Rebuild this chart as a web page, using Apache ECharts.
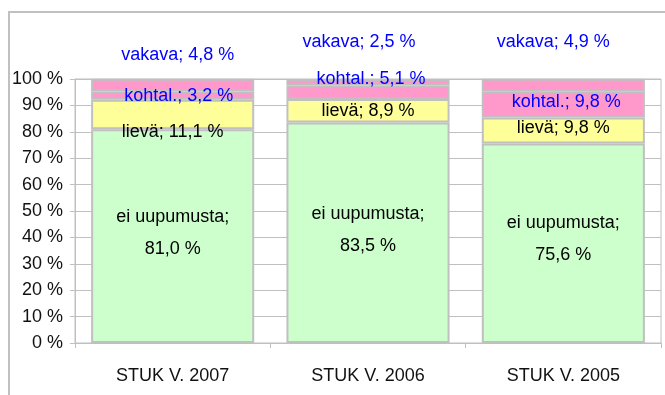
<!DOCTYPE html>
<html>
<head>
<meta charset="utf-8">
<script src="https://cdn.jsdelivr.net/npm/echarts@6/dist/echarts.min.js"></script>
<style>
  html, body { margin: 0; padding: 0; background: #ffffff; }
  #chart { width: 665px; height: 395px; }
</style>
</head>
<body>
<div id="chart"></div>
<script>
// Survey categories (x axis)
var categories = ['STUK V. 2007', 'STUK V. 2006', 'STUK V. 2005'];

// Share of respondents per burnout level, percent
var eiUupumusta = [81.0, 83.5, 75.6];
var lieva = [11.1, 8.9, 9.8];
var kohtal = [3.2, 5.1, 9.8];
var vakava = [4.8, 2.5, 4.9];

// Y axis ticks
var yTicks = { min: 0, max: 100, step: 10 };

var FONT = "'Liberation Sans', Arial, sans-serif";
var FONT_SIZE = 18;

function pct(v) {
  return v.toFixed(1).replace('.', ',') + ' %';
}

// Hand-placed label nudges, [dx, dy] per bar
var offsets = {
  ei: [[0, -3], [0, -3], [0, -4]],
  lieva: [[0, 18], [0, 0], [0, -2]],
  kohtal: [[6, 0], [3, -13], [3, -3]],
  vakava: [[5, -30], [-9, -40], [-10, -43]]
};

var barStyle = { borderColor: '#c0c0c0', borderWidth: 2 };

function makeSeries(name, values, key, color, labelColor, formatter, extraLabel) {
  var label = Object.assign({
    show: true,
    position: 'inside',
    color: labelColor,
    fontFamily: FONT,
    fontSize: FONT_SIZE,
    formatter: formatter
  }, extraLabel || {});
  return {
    name: name,
    type: 'bar',
    stack: 'total',
    barCategoryGap: '16.5%',
    data: values,
    itemStyle: Object.assign({ color: color }, barStyle),
    label: label,
    labelLayout: function (params) {
      var o = offsets[key][params.dataIndex];
      return { dx: o[0], dy: o[1], hideOverlap: false };
    },
    emphasis: { disabled: true }
  };
}

var chart = echarts.init(document.getElementById('chart'), null, { renderer: 'canvas' });

chart.setOption({
  animation: false,
  backgroundColor: '#ffffff',
  graphic: [{
    type: 'rect',
    shape: { x: 9, y: 12, width: 700, height: 420 },
    style: { fill: 'none', stroke: '#c0c0c0', lineWidth: 2 },
    z: -1
  }],
  grid: {
    left: 75, right: 4, top: 79, bottom: 52,
    show: true, borderColor: '#c0c0c0', borderWidth: 1
  },
  xAxis: {
    type: 'category',
    data: categories,
    axisLine: { lineStyle: { color: '#c0c0c0', width: 1 } },
    axisTick: { show: true, length: 5, lineStyle: { color: '#c0c0c0' } },
    axisLabel: { color: '#111', fontFamily: FONT, fontSize: FONT_SIZE, margin: 24 },
    splitLine: { show: false }
  },
  yAxis: {
    type: 'value',
    min: yTicks.min,
    max: yTicks.max,
    interval: yTicks.step,
    axisLine: { show: true, lineStyle: { color: '#c0c0c0', width: 1 } },
    axisTick: { show: true, length: 5, lineStyle: { color: '#c0c0c0' } },
    axisLabel: {
      color: '#111', fontFamily: FONT, fontSize: FONT_SIZE, margin: 12,
      formatter: function (v) { return v + ' %'; }
    },
    splitLine: { show: true, lineStyle: { color: '#c0c0c0', width: 1 } }
  },
  series: [
    makeSeries('ei uupumusta', eiUupumusta, 'ei', '#ccffcc', '#000000',
      function (p) { return 'ei uupumusta;\n' + pct(p.value); },
      { lineHeight: 32 }),
    makeSeries('lievä', lieva, 'lieva', '#ffff99', '#000000',
      function (p) { return 'lievä; ' + pct(p.value); }),
    makeSeries('kohtal.', kohtal, 'kohtal', '#ff99cc', '#0000ff',
      function (p) { return 'kohtal.; ' + pct(p.value); }),
    makeSeries('vakava', vakava, 'vakava', '#ff99cc', '#0000ff',
      function (p) { return 'vakava; ' + pct(p.value); })
  ]
});
</script>
</body>
</html>
